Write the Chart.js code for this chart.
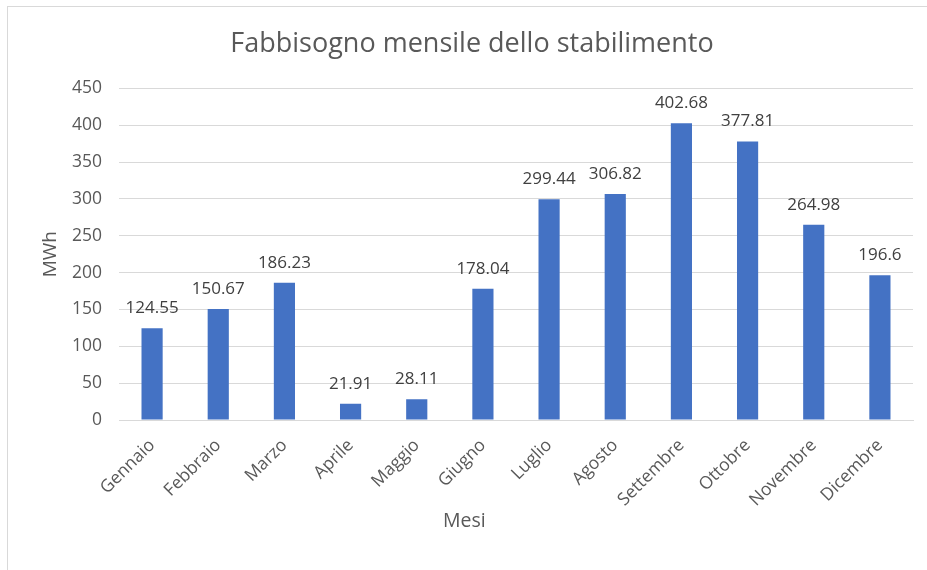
<!DOCTYPE html>
<html>
<head>
<meta charset="utf-8">
<script src="https://cdn.jsdelivr.net/npm/chart.js@4"></script>
<style>
  html, body { margin: 0; padding: 0; background: #ffffff; }
  #wrap { position: relative; width: 927px; height: 570px; overflow: hidden; }
  #frame { position: absolute; left: 7px; top: 6px; width: 940px; height: 600px; border: 1px solid #d9d9d9; box-sizing: border-box; }
  canvas { position: absolute; left: 0; top: 0; }
</style>
</head>
<body>
<div id="wrap">
  <div id="frame"></div>
  <canvas id="c" width="927" height="570"></canvas>
</div>
<script>
const categories = ["Gennaio","Febbraio","Marzo","Aprile","Maggio","Giugno","Luglio","Agosto","Settembre","Ottobre","Novembre","Dicembre"];
const values = [124.55, 150.67, 186.23, 21.91, 28.11, 178.04, 299.44, 306.82, 402.68, 377.81, 264.98, 196.6];
const yTicks = [0, 50, 100, 150, 200, 250, 300, 350, 400, 450];
const chartTitle = "Fabbisogno mensile dello stabilimento";
const xTitle = "Mesi";
const yTitle = "MWh";

const FONT = "'Open Sans', 'Noto Sans', sans-serif";
const TEXT = "#595959";

const valueLabels = {
  id: 'valueLabels',
  afterDatasetsDraw(chart) {
    const ctx = chart.ctx;
    const meta = chart.getDatasetMeta(0);
    ctx.save();
    ctx.font = "17px " + FONT;
    ctx.fillStyle = "#404040";
    ctx.textAlign = "center";
    ctx.textBaseline = "middle";
    meta.data.forEach((bar, i) => {
      ctx.fillText(String(values[i]), bar.x, bar.y - 20);
    });
    ctx.restore();
  }
};

// x-axis title, placed slightly left of the plot centre as in the reference
const xAxisTitle = {
  id: 'xAxisTitle',
  afterDraw(chart) {
    const ctx = chart.ctx;
    const a = chart.chartArea;
    ctx.save();
    ctx.font = "19.5px " + FONT;
    ctx.fillStyle = TEXT;
    ctx.textAlign = "center";
    ctx.textBaseline = "middle";
    ctx.fillText(xTitle, a.left + (a.right - a.left) * 0.435, a.bottom + 101);
    ctx.restore();
  }
};

new Chart(document.getElementById('c'), {
  type: 'bar',
  data: {
    labels: categories,
    datasets: [{
      data: values,
      backgroundColor: '#4472C4',
      borderWidth: 0,
      categoryPercentage: 1,
      barPercentage: 0.32
    }]
  },
  options: {
    responsive: false,
    animation: false,
    devicePixelRatio: 1,
    layout: { padding: { left: 31, right: 14, top: 0, bottom: 0 } },
    plugins: {
      legend: { display: false },
      tooltip: { enabled: false },
      title: {
        display: true,
        text: chartTitle,
        color: TEXT,
        font: { family: FONT, size: 27, weight: 'normal' },
        padding: { top: 28, bottom: 28 }
      }
    },
    scales: {
      x: {
        grid: { display: false, drawTicks: false },
        border: { display: true, color: '#d9d9d9', width: 1 },
        ticks: {
          color: TEXT,
          font: { family: FONT, size: 17.5 },
          maxRotation: 45,
          minRotation: 45,
          padding: 15,
          autoSkip: false
        },
        title: { display: false },
        afterFit(scale) { scale.height = 150; }
      },
      y: {
        min: 0,
        max: 450,
        afterBuildTicks(scale) { scale.ticks = yTicks.map(v => ({ value: v })); },
        grid: { color: '#d9d9d9', lineWidth: 1, drawTicks: false },
        border: { display: false },
        ticks: {
          color: TEXT,
          font: { family: FONT, size: 17.5 },
          padding: 17
        },
        title: {
          display: true,
          text: yTitle,
          color: TEXT,
          font: { family: FONT, size: 19 },
          padding: { top: 8, bottom: 0 }
        },
        afterFit(scale) { scale.width = 88; }
      }
    }
  },
  plugins: [valueLabels, xAxisTitle]
});
</script>
</body>
</html>
